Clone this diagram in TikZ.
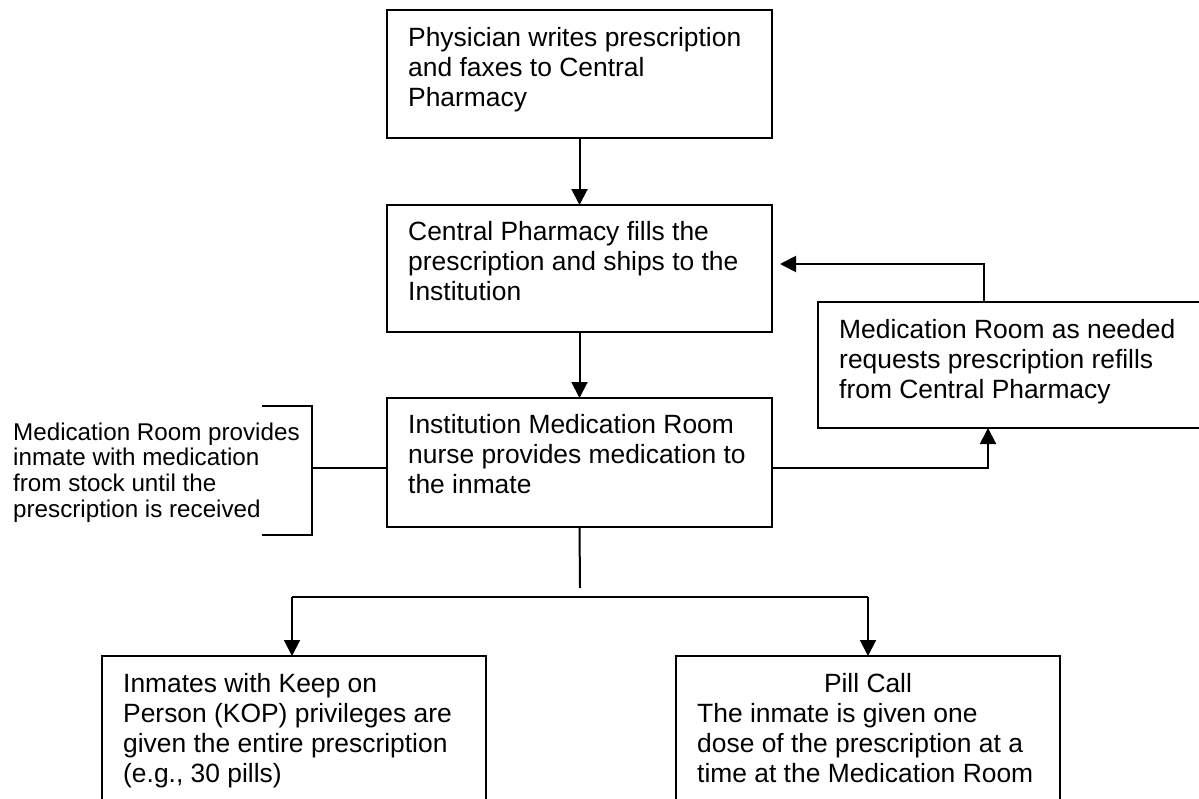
\documentclass[tikz,border=0pt]{standalone}
\usepackage{fontspec}
\setmainfont{Liberation Sans}
\usetikzlibrary{arrows.meta}
\tikzset{
  box/.style={draw=black, line width=2pt, inner sep=0pt, outer sep=0pt, anchor=north west},
  boxtxt/.style={inner sep=0pt, anchor=north west, align=left, font=\fontsize{26.4}{30}\selectfont},
  sidetxt/.style={inner sep=0pt, anchor=north west, align=left, font=\fontsize{24.2}{25.7}\selectfont},
  conn/.style={draw=black, line width=2pt},
  arr/.style={conn, -{Triangle[width=16pt,length=16pt]}}
}
\newcommand{\firststrut}{\rule{0pt}{21pt}}
\begin{document}
\begin{tikzpicture}[x=1pt,y=-1pt]
\useasboundingbox (0,0) rectangle (1199,798);
\clip (0,0) rectangle (1199,798);
% boxes
\node[box, minimum width=385pt, minimum height=128pt] (b1) at (387,10) {};
\node[box, minimum width=385pt, minimum height=127pt] (b2) at (387,205) {};
\node[box, minimum width=385pt, minimum height=129pt] (b3) at (387,398) {};
\node[box, minimum width=402pt, minimum height=126pt] (b4) at (818,302) {};
\node[box, minimum width=384pt, minimum height=170pt] (b5) at (102,656) {};
\node[box, minimum width=384pt, minimum height=170pt] (b6) at (676,656) {};
% texts
\node[boxtxt] (t1) at (408,25) {\firststrut Physician writes prescription\\and faxes to Central\\Pharmacy};
\node[boxtxt] (t2) at (408,219) {\firststrut Central Pharmacy fills the\\prescription and ships to the\\Institution};
\node[boxtxt] (t3) at (408,412) {\firststrut Institution Medication Room\\nurse provides medication to\\the inmate};
\node[boxtxt] (t4) at (839,317) {\firststrut Medication Room as needed\\requests prescription refills\\from Central Pharmacy};
\node[boxtxt] (t5) at (123,671) {\firststrut Inmates with Keep on\\Person (KOP) privileges are\\given the entire prescription\\(e.g., 30 pills)};
\node[boxtxt, anchor=base] (t6a) at (868,692) {Pill Call};
\node[boxtxt] (t6) at (697,701) {\firststrut The inmate is given one\\dose of the prescription at a\\time at the Medication Room};
\node[sidetxt] (side) at (13,421.5) {\rule{0pt}{18.5pt}Medication Room provides\\inmate with medication\\from stock until the\\prescription is received};
% bracket
\coordinate (brtop) at (262,406);
\coordinate (brbot) at (262,535);
\coordinate (brmid) at (312,468);
\draw[conn] (brtop) -- (312,406) -- (312,535) -- (brbot);
\draw[conn] (brmid) -- (b3.west |- brmid);
% vertical flow
\draw[arr] (b1.south) -- (b2.north);
\draw[arr] (b2.south) -- (b3.north);
% refill loop
\coordinate (r1) at (988,468);
\coordinate (r2) at (984,264);
\coordinate (r3) at (780,264);
\draw[arr] (b3.east |- r1) -- (r1) -- (988,428);
\draw[arr] (984,302) -- (r2) -- (r3);
% split to bottom
\coordinate (stem) at (580,588);
\coordinate (split) at (580,597);
\draw[conn] (b3.south) -- (stem);
\draw[conn] (292,597) -- (868,597);
\draw[arr] (292,597) -- (292,656);
\draw[arr] (868,597) -- (868,656);
\end{tikzpicture}
\end{document}
